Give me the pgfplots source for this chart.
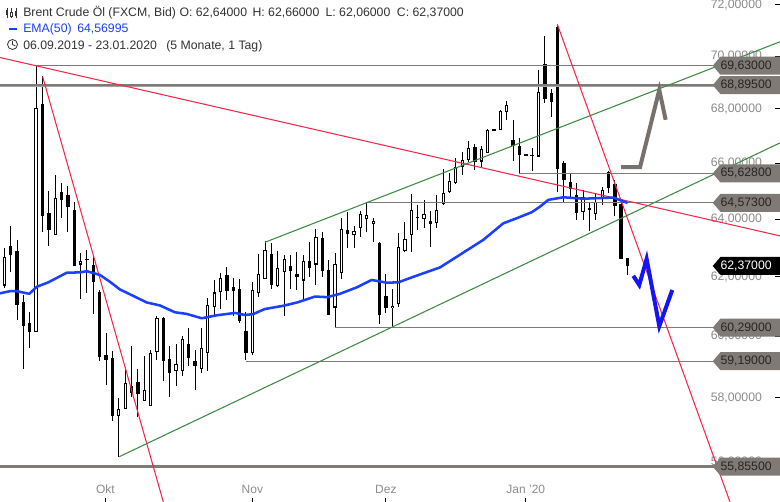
\documentclass[border=0pt]{standalone}
\usepackage{pgfplots}
\pgfplotsset{compat=1.18}
\usepackage{pgfplotstable}
\usepackage{fontspec}
\setmainfont{Liberation Sans}
\definecolor{lvl}{HTML}{7F7A76}
\definecolor{tickgrey}{HTML}{8C8C8C}
\definecolor{hdr}{HTML}{333333}
\definecolor{redl}{HTML}{F7284C}
\definecolor{greenl}{HTML}{3F8A45}
\definecolor{emablue}{HTML}{1C40FF}
\definecolor{drawblue}{HTML}{1414F5}
\definecolor{drawgrey}{HTML}{76716D}

\pgfplotstableread{
i hi lo top bot
0 62.98 61.61 62.67 61.70
5 69.62 60.15 68.03 60.15
8 65.57 63.44 64.74 63.44
12 62.81 61.26 62.53 62.42
18 57.99 56.16 57.64 57.44
19 59.00 57.66 58.47 57.66
22 59.36 57.92 58.25 57.92
23 59.55 57.76 59.47 57.76
24 60.68 59.23 60.60 59.49
27 59.75 58.37 59.10 58.88
28 60.01 58.72 59.91 58.88
31 60.27 58.79 59.61 58.93
32 61.28 58.88 61.05 59.46
33 61.89 60.66 61.47 60.97
34 62.12 60.91 61.95 61.49
39 61.81 59.39 61.55 59.44
40 62.78 61.30 62.09 61.46
41 63.24 61.91 62.91 61.91
43 62.89 61.66 62.29 61.69
44 62.75 60.69 62.60 62.17
47 62.75 61.26 62.54 61.87
49 63.64 61.72 63.36 62.42
52 62.81 60.31 62.43 60.96
53 64.05 61.93 63.64 62.14
55 63.77 63.00 63.57 63.45
56 64.30 63.39 64.17 63.67
57 64.60 63.53 64.13 64.01
58 64.05 63.20 63.92 63.84
61 61.58 60.31 61.01 60.93
62 63.50 60.99 63.01 61.09
63 63.89 62.86 63.29 62.90
64 64.89 62.86 64.31 63.43
66 64.68 63.68 64.17 64.00
68 64.85 63.69 64.31 63.85
69 65.78 64.50 64.93 64.54
70 65.63 64.93 65.34 64.97
71 66.20 65.25 65.86 65.27
72 66.40 65.57 66.11 65.86
73 66.79 66.04 66.54 66.12
75 66.63 65.85 66.51 66.06
76 67.25 66.38 67.21 66.38
78 67.96 67.21 67.92 67.21
79 68.30 67.59 68.14 67.87
84 69.47 66.24 68.62 66.24
91 65.03 63.95 64.77 64.26
93 64.93 63.95 64.62 64.19
94 65.14 64.50 65.05 64.70
}\hollowcandles

\pgfplotstableread{
i hi lo top bot
1 63.76 62.17 63.06 62.73
2 63.27 60.55 62.89 61.03
3 61.38 58.94 61.15 60.36
4 60.80 59.63 60.44 60.15
6 69.22 63.56 68.18 64.09
7 64.99 63.06 64.21 63.62
9 65.27 64.04 64.95 64.66
10 65.17 63.56 64.85 64.44
11 64.60 62.38 64.32 62.38
13 62.92 61.46 62.61 62.56
14 62.73 60.76 62.40 61.83
15 61.55 59.20 61.48 59.33
16 60.10 58.42 59.39 59.23
17 59.52 57.26 59.29 57.44
20 59.68 58.05 58.39 58.17
21 58.92 57.41 58.52 58.13
25 60.64 58.55 60.60 59.20
26 59.68 58.05 59.26 58.81
29 60.27 59.03 59.75 59.28
30 59.55 58.26 59.20 59.03
35 62.32 61.20 62.06 61.53
36 61.95 60.66 61.64 61.53
37 61.91 60.44 61.58 60.52
38 60.80 59.23 60.18 59.46
42 63.15 61.60 62.78 61.72
45 62.75 61.60 62.37 62.21
46 62.84 61.55 62.09 62.00
48 63.20 62.00 62.54 62.31
50 63.56 61.98 63.33 62.21
51 62.58 60.72 62.23 60.72
54 64.24 63.00 63.62 63.49
59 63.19 60.40 63.15 60.72
60 62.08 60.79 61.34 60.95
65 64.50 63.62 64.06 64.03
67 64.30 63.03 63.92 63.84
74 66.69 65.75 66.58 66.06
77 67.25 67.19 67.25 67.19
80 67.59 66.09 66.85 66.63
81 66.91 65.64 66.63 66.29
82 66.32 66.26 66.32 66.26
83 66.54 65.71 66.30 66.25
85 70.76 68.23 69.70 68.38
86 68.74 67.68 68.60 68.26
87 71.24 64.97 71.12 65.80
88 66.09 64.58 66.00 65.39
89 65.64 64.75 65.31 65.06
90 65.27 63.95 64.85 64.21
92 64.60 63.59 64.38 64.31
95 65.72 64.93 65.68 65.09
96 65.39 64.09 65.25 64.47
97 64.71 62.62 64.53 62.62
98 62.66 62.06 62.64 62.37
}\blackcandles

\pgfplotstableread{
i ema
-0.68 61.44
0.90 61.51
1.95 61.51
3.93 61.42
5.09 61.66
6.92 61.81
9.81 62.14
11.90 62.15
12.96 62.19
15.05 62.06
16.62 61.83
18.19 61.57
20.28 61.35
22.39 61.13
24.48 61.03
26.84 60.80
28.68 60.75
31.04 60.60
33.40 60.70
36.27 60.78
37.84 60.71
39.15 60.74
40.20 60.84
40.99 60.91
43.87 61.02
46.23 61.14
48.85 61.33
50.79 61.31
52.78 61.42
55.41 61.64
57.77 61.89
60.13 61.80
61.95 61.81
64.31 62.00
68.51 62.32
75.31 63.27
78.46 63.85
80.57 64.03
82.92 64.24
84.23 64.44
85.53 64.68
87.89 64.77
91.04 64.72
95.75 64.76
98.00 64.57
}\ematable

\newcommand{\pricetag}[4]{%
  \fill[#2] (axis cs:111.39,#1) -- ++(5.8pt,6.75pt) -- ++(60pt,0pt) -- ++(0pt,-13.5pt) -- ++(-60pt,0pt) -- cycle;
  \node[anchor=east,text=#3,font=\fontsize{9.2}{11}\selectfont,inner sep=0pt] at (axis cs:120.7,#1) {#4};
}
\newcommand{\level}[3]{\addplot[lvl,line width=#3,forget plot] coordinates {(#1,#2) (112,#2)};}

\begin{document}
\begin{tikzpicture}
\path[use as bounding box,fill=white] (0,0) rectangle (585pt,376.5pt);
% ---- ticks and tick labels (under everything)
\begin{axis}[
  ymode=log,
  scale only axis,
  width=585pt,height=376.5pt,
  xmin=-0.676,xmax=121.97,
  ymin=54.778,ymax=72.198,
  axis line style={opacity=0},
  major tick length=0pt,
  minor tick num=0,
  ytick={56,58,60,62,64,66,68,70,72},
  yticklabels={56{,}00000,58{,}00000,60{,}00000,62{,}00000,64{,}00000,66{,}00000,68{,}00000,70{,}00000,72{,}00000},
  ytick pos=right,yticklabel pos=right,
  yticklabel style={anchor=east,xshift=-10pt,text=tickgrey,font=\fontsize{9.2}{11}\selectfont},
  xtick={15.9,39,60,82},
  xticklabels={Okt,Nov,Dez,Jan '20},
  xtick pos=lower,xticklabel pos=lower,
  xticklabel style={yshift=16pt,text=tickgrey,font=\fontsize{9}{11}\selectfont},
  at={(0,0)},anchor=south west,
]
\addplot[draw=none,forget plot] coordinates {(0,60)};
\pgfplotsinvokeforeach{56,58,60,62,64,66,68,70,72}{
  \draw[black,line width=0.75pt] (axis cs:121.97,#1) -- ++(-3.75pt,0pt);
}
\pgfplotsinvokeforeach{15.9,39,60,82}{
  \draw[black,line width=0.75pt] (axis cs:#1,54.778) -- ++(0pt,2.6pt);
}
\end{axis}
% ---- data
\begin{axis}[
  ymode=log,
  scale only axis,
  width=585pt,height=376.5pt,
  xmin=-0.676,xmax=121.97,
  ymin=54.778,ymax=72.198,
  hide axis,
  at={(0,0)},anchor=south west,
]
\addplot[draw=none,mark=none,forget plot,error bars/.cd,y dir=both,y explicit,error mark=none,error bar style={line width=0.75pt,black}] table[x=i,y=top,y error plus expr=\thisrow{hi}-\thisrow{top},y error minus expr=\thisrow{top}-\thisrow{lo}] {\blackcandles};
\addplot[draw=none,mark=none,forget plot,error bars/.cd,y dir=both,y explicit,error mark=none,error bar style={line width=0.75pt,black}] table[x=i,y=top,y error plus expr=\thisrow{hi}-\thisrow{top},y error minus expr=\thisrow{top}-\thisrow{lo}] {\hollowcandles};
\addplot[draw=none,mark=none,forget plot,error bars/.cd,y dir=minus,y explicit,error mark=none,error bar style={line width=2.6pt,black}] table[x=i,y=top,y error minus expr=\thisrow{top}-\thisrow{bot}] {\blackcandles};
\addplot[draw=none,mark=none,forget plot,error bars/.cd,y dir=minus,y explicit,error mark=none,error bar style={line width=2.4pt,black}] table[x=i,y=top,y error minus expr=\thisrow{top}-\thisrow{bot}] {\hollowcandles};
\addplot[draw=none,mark=none,forget plot,error bars/.cd,y dir=minus,y explicit,error mark=none,error bar style={line width=0.9pt,white}]
  table[x=i,y expr=\thisrow{top}*0.9994,y error minus expr=\thisrow{top}*0.9994-\thisrow{bot}*1.0006] {\hollowcandles};
% levels
\level{5}{69.63}{0.75pt}
\addplot[lvl!70,line width=2.2pt,forget plot] coordinates {(-0.68,68.895) (112,68.895)};
\addplot[lvl,line width=1pt,forget plot] coordinates {(-0.68,68.895) (112,68.895)};
\level{81}{65.628}{0.75pt}
\level{57}{64.573}{0.75pt}
\level{52}{60.29}{0.75pt}
\level{38}{59.19}{0.75pt}
\level{-0.68}{55.855}{2.2pt}
% trend lines
\addplot[redl,line width=0.8pt,forget plot] coordinates {(-0.676,69.95) (121.97,63.41)};
\addplot[redl,line width=0.8pt,forget plot] coordinates {(6.02,69.22) (25.0,54.78)};
\addplot[redl,line width=0.8pt,forget plot] coordinates {(86.95,71.24) (114.1,54.78)};
\addplot[greenl,line width=0.8pt,forget plot] coordinates {(40.99,63.19) (121.97,70.56)};
\addplot[greenl,line width=0.8pt,forget plot] coordinates {(18.08,56.16) (121.97,66.74)};
% EMA
\addplot[emablue,line width=1.9pt,line join=round,forget plot] table[x=i,y=ema] {\ematable};
% drawn paths
\addplot[drawgrey,line width=3pt,forget plot] coordinates {(96.97,65.85) (99.96,65.85) (102.99,68.71) (103.99,67.59)};
\addplot[drawblue,line width=3pt,forget plot] coordinates {(98.9,62.03) (99.84,61.72) (101.0,62.61) (102.99,60.34) (105.03,61.55)};
% price tags
\pricetag{69.63}{lvl}{black!85}{69,63000}
\pricetag{68.895}{lvl}{black!85}{68,89500}
\pricetag{65.628}{lvl}{black!85}{65,62800}
\pricetag{64.573}{lvl}{black!85}{64,57300}
\pricetag{60.29}{lvl}{black!85}{60,29000}
\pricetag{59.19}{lvl}{black!85}{59,19000}
\pricetag{55.855}{lvl}{black!85}{55,85500}
\pricetag{62.37}{black}{white}{62,37000}
\end{axis}
% ---- header
\begin{scope}[x=0.75pt,y=-0.75pt,yshift=376.5pt]
\tikzset{hd/.style={anchor=base west,inner sep=0pt,font=\fontsize{9.2}{11}\selectfont}}
\node[hd,text=hdr] at (23,17) {Brent Crude Öl (FXCM, Bid)};
\node[hd,text=hdr] at (179.3,17) {O: 62,64000};
\node[hd,text=hdr] at (252.3,17) {H: 62,66000};
\node[hd,text=hdr] at (325.3,17) {L: 62,06000};
\node[hd,text=hdr] at (396.7,17) {C: 62,37000};
\node[hd,text=emablue] at (23,33) {EMA(50)};
\node[hd,text=emablue] at (77,33) {64,56995};
\node[hd,text=hdr] at (23,49.5) {06.09.2019 - 23.01.2020};
\node[hd,text=hdr] at (166,49.5) {(5 Monate, 1 Tag)};
% icons
\fill[emablue] (9,27.7) rectangle (17,30.3);
\draw[hdr,line width=0.6pt] (12.5,44.5) circle (5);
\draw[hdr,line width=0.6pt] (12.5,41) -- (12.5,44.5) -- (15.5,46);
\draw[hdr,line width=0.6pt] (7,8) -- (7,18) (11.5,8) -- (11.5,18) (16,8) -- (16,18);
\fill[hdr] (6,10) rectangle (8,15);
\fill[white,draw=hdr,line width=0.5pt] (10.5,12) rectangle (12.5,16);
\fill[hdr] (15,11) rectangle (17,16);
\end{scope}
\end{tikzpicture}
\end{document}
